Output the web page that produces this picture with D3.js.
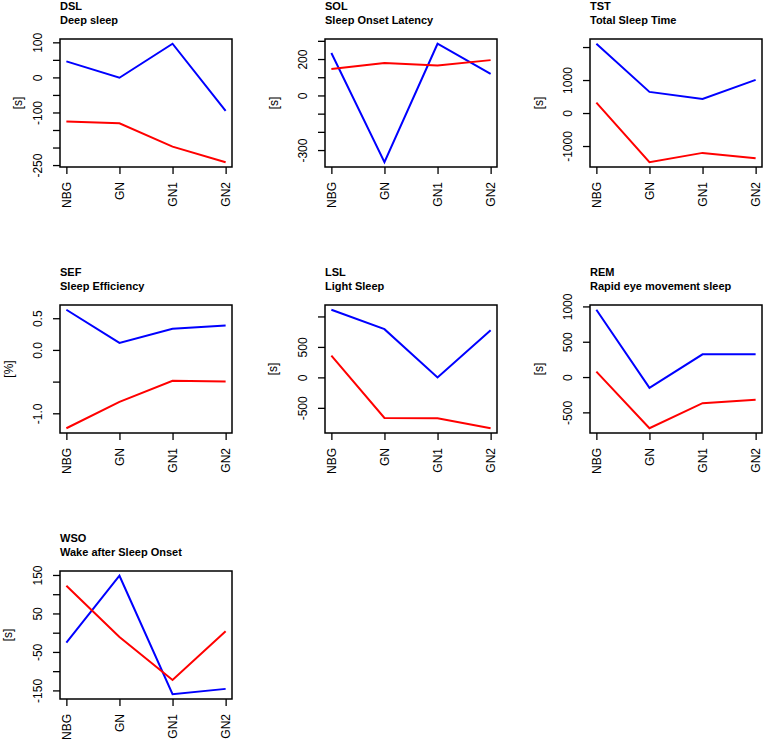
<!DOCTYPE html>
<html>
<head>
<meta charset="utf-8">
<script src="https://cdn.jsdelivr.net/npm/d3@7"></script>
<style>
  body { margin: 0; background: #fff; }
  text { font-family: "Liberation Sans", Arial, sans-serif; fill: #000; }
</style>
</head>
<body>
<script>
// group labels on the x axis
const categories = ["NBG", "GN", "GN1", "GN2"];

const codes = ["DSL", "SOL", "TST", "SEF", "LSL", "REM", "WSO"];
const names = ["Deep sleep", "Sleep Onset Latency", "Total Sleep Time", "Sleep Efficiency",
    "Light Sleep", "Rapid eye movement sleep", "Wake after Sleep Onset"];
const units = ["[s]", "[s]", "[s]", "[%]", "[s]", "[s]", "[s]"];

// blue and red series, one row per panel
const blueValues = [
    [45.6, -1, 96, -95.5],
    [233, -367, 284, 119],
    [2100, 640, 426, 1005],
    [0.634, 0.111, 0.333, 0.386],
    [1110, 791, 0, 775],
    [953, -152, 322, 322],
    [-26, 148, -160, -146]
];
const redValues = [
    [-126, -131, -197.5, -242],
    [145, 178, 165, 194],
    [315, -1492, -1208, -1370],
    [-1.236, -0.819, -0.486, -0.497],
    [357, -665, -670, -835],
    [76, -725, -370, -322],
    [122, -11, -123, 3.5]
];

// y ticks and the labels R kept on them
const tickValues = [
    [100, 50, 0, -50, -100, -150, -200, -250],
    [300, 200, 100, 0, -100, -200, -300],
    [2000, 1000, 0, -1000],
    [0.5, 0, -0.5, -1],
    [1000, 500, 0, -500],
    [1000, 500, 0, -500],
    [150, 100, 50, 0, -50, -100, -150]
];
const tickLabels = [
    ["100", "", "0", "", "-100", "", "", "-250"],
    ["", "200", "", "0", "", "", "-300"],
    ["", "1000", "0", "-1000"],
    ["0.5", "0.0", "", "-1.0"],
    ["", "500", "0", "-500"],
    ["1000", "500", "0", "-500"],
    ["150", "", "50", "", "-50", "", "-150"]
];

let svgWidth = 767;
let svgHeight = 743;

let svg = d3.select("body")
    .append("svg")
    .attr("width", svgWidth)
    .attr("height", svgHeight)

let plotW = 172;
let plotH = 128;
let colLeft = [60, 325, 590];
let rowTop = [39, 305, 571];
let ylabOffset = [42, 51, 51, 51, 52, 51, 52];

codes.forEach(function (code, i) {
    let g = svg.append("g")
        .attr("transform", `translate(${colLeft[i % 3]},${rowTop[Math.floor(i / 3)]})`);

    let xScale = d3.scalePoint()
        .domain(categories)
        .range([0, plotW])
        .padding(0.12);

    // R style range: data extent widened by 4% on each side
    let all = blueValues[i].concat(redValues[i]);
    let lo = d3.min(all), hi = d3.max(all);
    let pad = (hi - lo) * 0.04;
    let yScale = d3.scaleLinear()
        .domain([lo - pad, hi + pad])
        .range([plotH, 0]);

    let leftAxis = d3.axisLeft(yScale)
        .tickValues(tickValues[i])
        .tickFormat((d, k) => tickLabels[i][k])
        .tickSize(7)
        .tickSizeOuter(0);

    let yAxis = g.append("g").call(leftAxis);
    yAxis.select(".domain").remove();
    yAxis.selectAll("line").attr("stroke", "#000").attr("stroke-width", 1.3);
    yAxis.selectAll("text")
        .attr("transform", "rotate(-90)")
        .attr("x", 0)
        .attr("y", -18)
        .attr("dy", 0)
        .attr("text-anchor", "middle")
        .style("font-size", "12px")
        .style("font-family", "Liberation Sans, Arial, sans-serif");

    let bottomAxis = d3.axisBottom(xScale)
        .tickSize(7)
        .tickSizeOuter(0);

    let xAxis = g.append("g")
        .attr("transform", `translate(0,${plotH})`)
        .call(bottomAxis);
    xAxis.select(".domain").remove();
    xAxis.selectAll("line").attr("stroke", "#000").attr("stroke-width", 1.3);
    xAxis.selectAll("text")
        .attr("transform", "rotate(-90)")
        .attr("x", -15)
        .attr("y", 0)
        .attr("dy", "0.36em")
        .attr("text-anchor", "end")
        .style("font-size", "12px")
        .style("font-family", "Liberation Sans, Arial, sans-serif");

    let line = d3.line()
        .x((d, k) => xScale(categories[k]))
        .y(d => yScale(d));

    g.append("path")
        .attr("d", line(blueValues[i]))
        .attr("fill", "none")
        .attr("stroke", "#0000ff")
        .attr("stroke-width", 2);

    g.append("path")
        .attr("d", line(redValues[i]))
        .attr("fill", "none")
        .attr("stroke", "#ff0000")
        .attr("stroke-width", 2);

    g.append("rect")
        .attr("width", plotW)
        .attr("height", plotH)
        .attr("fill", "none")
        .attr("stroke", "#000")
        .attr("stroke-width", 1.5);

    g.append("text")
        .attr("x", 0)
        .attr("y", -29)
        .style("font-size", "11px")
        .style("font-weight", "bold")
        .text(code);

    g.append("text")
        .attr("x", 0)
        .attr("y", -15)
        .style("font-size", "11px")
        .style("font-weight", "bold")
        .text(names[i]);

    g.append("text")
        .attr("transform", `translate(${-ylabOffset[i] + 4},${plotH / 2}) rotate(-90)`)
        .attr("text-anchor", "middle")
        .style("font-size", "12px")
        .text(units[i]);
})
</script>
</body>
</html>
